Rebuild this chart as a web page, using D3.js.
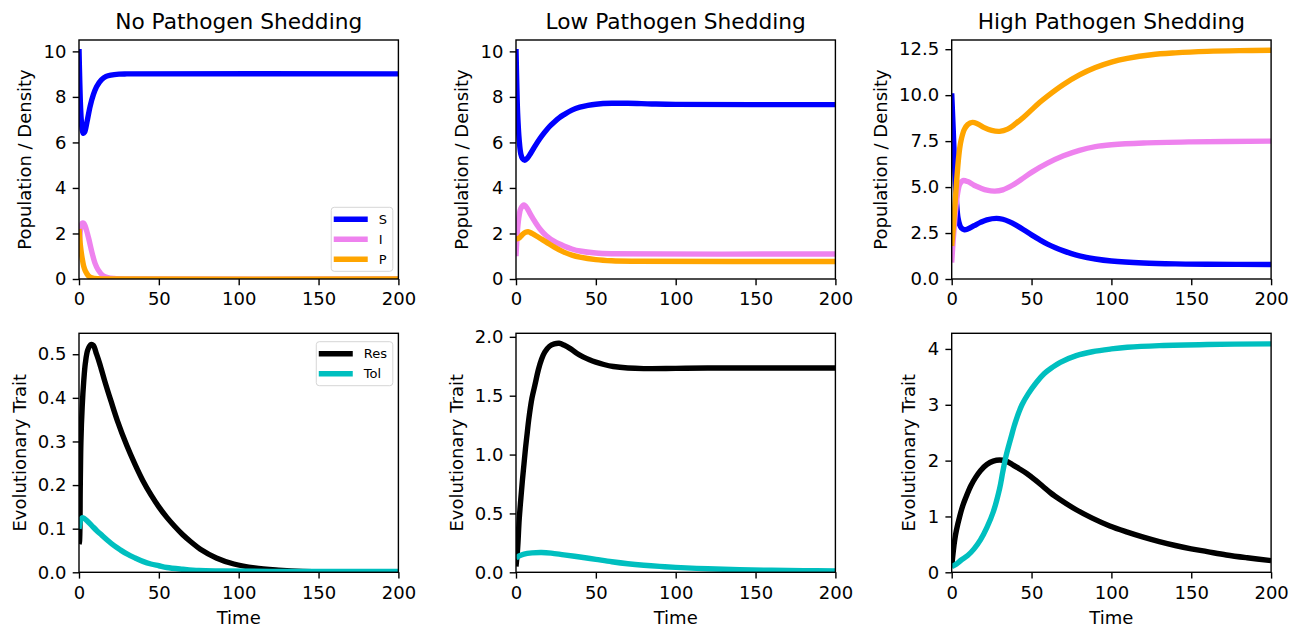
<!DOCTYPE html>
<html>
<head>
<meta charset="utf-8">
<script src="https://cdn.jsdelivr.net/npm/d3@7"></script>
<style>
  html, body { margin: 0; padding: 0; background: #fff; }
  svg { display: block; font-family: "DejaVu Sans", sans-serif; }
</style>
</head>
<body>
<svg id="fig" width="1300" height="627"></svg>
<script>
// ---- Scenario titles and axis text ----
const panelTitles = ["No Pathogen Shedding", "Low Pathogen Shedding", "High Pathogen Shedding"];
const popLabel = "Population / Density";
const traitLabel = "Evolutionary Trait";
const timeLabel = "Time";

// ---- Axis ranges and ticks ----
const timeTicks = [0, 50, 100, 150, 200];
const popMax = [10.5, 10.5, 13.0];
const traitMax = [0.548, 2.03, 4.28];
const popTicks = [[0, 2, 4, 6, 8, 10], [0, 2, 4, 6, 8, 10], [0, 2.5, 5, 7.5, 10, 12.5]];
const popTickFmt = ["d", "d", ".1f"];
const traitTicks = [[0, 0.1, 0.2, 0.3, 0.4, 0.5], [0, 0.5, 1, 1.5, 2], [0, 1, 2, 3, 4]];
const traitTickFmt = [".1f", ".1f", "d"];

// ---- Series names and colours ----
const popSeries = ["S", "I", "P"];
const popColors = ["#0000ff", "#ee82ee", "#ffa500"];
const traitSeries = ["Res", "Tol"];
const traitColors = ["#000000", "#00bfbf"];

// ---- No pathogen shedding: [time, value] ----
const noS = [[0,10.1],[0.5,8.6],[1,7.5],[1.5,6.9],[2,6.55],[2.7,6.4],[3.5,6.45],[5,6.9],[7,7.6],[9,8.1],[11,8.45],[14,8.75],[17,8.9],[20,8.96],[25,9.0],[30,9.01],[200,9.01]];
const noI = [[0,1.0],[0.5,1.8],[1,2.2],[2,2.45],[3,2.45],[4,2.3],[6,1.8],[8,1.2],[10,0.7],[12,0.4],[15,0.15],[18,0.06],[22,0.02],[30,0.0],[200,0.0]];
const noP = [[0,2.2],[1,1.4],[2,0.9],[3,0.55],[4,0.35],[6,0.13],[8,0.05],[12,0.01],[20,0.0],[200,0.0]];
const noRes = [[0,0.065],[0.3,0.07],[0.8,0.2],[1.2,0.3],[2,0.38],[3,0.44],[4,0.48],[5.5,0.51],[7.5,0.522],[9,0.52],[11,0.5],[13,0.478],[16,0.44],[20,0.393],[24,0.348],[30,0.29],[35,0.248],[40,0.21],[45,0.178],[50,0.15],[55,0.126],[60,0.105],[65,0.086],[70,0.07],[76,0.053],[86,0.033],[97,0.019],[110,0.01],[125,0.005],[140,0.002],[160,0.001],[200,0.0005]];
const noTol = [[0,0.1],[0.5,0.11],[1,0.12],[2,0.125],[3,0.124],[5,0.118],[8,0.107],[11,0.096],[14,0.086],[18,0.073],[22,0.061],[26,0.051],[30,0.042],[35,0.033],[40,0.025],[45,0.019],[50,0.015],[55,0.011],[65,0.007],[75,0.004],[90,0.003],[120,0.002],[200,0.002]];

// ---- Low pathogen shedding ----
const lowS = [[0,10.1],[0.5,8.5],[1,7.3],[2,6.1],[3,5.5],[4,5.3],[5.5,5.22],[7,5.3],[9,5.5],[12,5.85],[15,6.17],[18,6.45],[21,6.7],[24,6.9],[27,7.08],[30,7.22],[35,7.42],[40,7.55],[45,7.63],[50,7.68],[60,7.72],[70,7.72],[85,7.69],[100,7.67],[200,7.66]];
const lowI = [[0,1.0],[1,2.2],[2,2.8],[3,3.1],[5,3.25],[7,3.1],[9,2.85],[12,2.5],[15,2.2],[19,1.9],[24,1.65],[30,1.45],[35,1.32],[40,1.23],[50,1.14],[60,1.11],[200,1.1]];
const lowP = [[0,1.75],[2,1.8],[4,1.95],[6,2.05],[8,2.07],[10,2.0],[13,1.88],[16,1.75],[19,1.62],[24,1.4],[30,1.18],[35,1.05],[40,0.96],[50,0.85],[60,0.8],[75,0.78],[200,0.77]];
const lowRes = [[0,0.05],[1,0.2],[2,0.45],[3,0.62],[4,0.78],[5,0.92],[6,1.06],[7,1.18],[8,1.3],[10,1.48],[12,1.6],[14,1.72],[16,1.81],[18,1.87],[21,1.92],[24,1.94],[27,1.945],[30,1.93],[34,1.9],[38,1.86],[42,1.83],[46,1.805],[50,1.785],[55,1.765],[61,1.748],[70,1.735],[80,1.73],[100,1.732],[120,1.735],[200,1.735]];
const lowTol = [[0,0.12],[2,0.14],[5,0.155],[10,0.165],[16,0.168],[22,0.163],[30,0.148],[40,0.13],[50,0.11],[60,0.09],[70,0.073],[80,0.06],[90,0.05],[100,0.042],[120,0.03],[140,0.022],[160,0.017],[180,0.014],[200,0.012]];

// ---- High pathogen shedding ----
const highS = [[0,10.1],[1,8.0],[2,5.8],[3,4.2],[4,3.3],[5,2.95],[6,2.78],[8,2.68],[10,2.72],[14,2.9],[18,3.08],[22,3.22],[28,3.3],[32,3.25],[36,3.12],[40,2.94],[45,2.68],[50,2.4],[55,2.14],[60,1.9],[65,1.7],[70,1.53],[75,1.38],[80,1.26],[90,1.09],[100,0.98],[120,0.87],[140,0.82],[160,0.8],[200,0.79]];
const highI = [[0,0.9],[1,2.2],[2,3.3],[3,4.2],[4,4.8],[5,5.15],[7,5.35],[10,5.3],[14,5.1],[18,4.95],[22,4.83],[27,4.78],[32,4.85],[38,5.1],[45,5.5],[50,5.8],[60,6.3],[70,6.7],[80,7.0],[90,7.2],[100,7.3],[120,7.4],[150,7.46],[200,7.5]];
const highP = [[0,1.8],[1,2.8],[2,4.0],[3,5.2],[4,6.3],[5,7.1],[6,7.6],[8,8.15],[10,8.4],[13,8.52],[16,8.45],[20,8.25],[25,8.08],[30,8.03],[35,8.15],[40,8.45],[45,8.8],[50,9.2],[55,9.6],[60,9.95],[70,10.58],[80,11.1],[90,11.5],[100,11.8],[110,12.0],[125,12.2],[140,12.3],[160,12.38],[180,12.42],[200,12.44]];
const highRes = [[0,0.1],[1,0.38],[2,0.6],[3,0.76],[5,1.0],[7,1.2],[9,1.35],[12,1.55],[15,1.7],[18,1.82],[22,1.93],[26,1.99],[30,2.01],[34,1.99],[38,1.93],[42,1.86],[47,1.77],[52,1.66],[57,1.54],[62,1.42],[68,1.3],[78,1.12],[88,0.97],[99,0.83],[110,0.72],[120,0.63],[130,0.55],[140,0.48],[150,0.42],[160,0.37],[172,0.31],[185,0.26],[200,0.21]];
const highTol = [[0,0.1],[3,0.15],[6,0.22],[10,0.3],[14,0.42],[18,0.58],[22,0.8],[26,1.08],[30,1.5],[32,1.8],[34,2.08],[37,2.4],[40,2.7],[44,3.0],[48,3.2],[53,3.4],[58,3.56],[63,3.67],[68,3.76],[78,3.88],[88,3.95],[100,4.0],[110,4.03],[130,4.06],[160,4.08],[200,4.09]];

const popData = [[noS, noI, noP], [lowS, lowI, lowP], [highS, highI, highP]];
const traitData = [[noRes, noTol], [lowRes, lowTol], [highRes, highTol]];

// ---- Layout ----
const colLeft = [79, 516, 951.7];
const axW = 319.4;
const rowTop = [40, 333.3];
const axH = 239;
const tickFont = 18;
const labelFont = 18;
const titleFont = 21.7;
const legendFont = 13;
const lineW = 5.4;
const spineW = 1.4;
const tickLen = 6.3;

const svg = d3.select("#fig");
svg.append("rect").attr("width", 1300).attr("height", 627).attr("fill", "#fff");

let clipId = 0;

function drawPanel(left, top, yMax, yTicks, yFmt, series, colors, names, yLabel, title, showX, legend) {
  const x = d3.scaleLinear().domain([0, 200]).range([left, left + axW]);
  const y = d3.scaleLinear().domain([0, yMax]).range([top + axH, top]);
  const g = svg.append("g");

  const id = "clip" + (clipId++);
  svg.append("clipPath").attr("id", id)
    .append("rect").attr("x", left).attr("y", top).attr("width", axW).attr("height", axH);

  const line = d3.line()
    .x(d => x(d[0])).y(d => y(d[1]))
    .curve(d3.curveCatmullRom.alpha(0.5));

  const lines = g.append("g").attr("clip-path", `url(#${id})`);
  series.forEach((s, i) => {
    lines.append("path")
      .attr("d", line(s))
      .attr("fill", "none")
      .attr("stroke", colors[i])
      .attr("stroke-width", lineW)
      .attr("stroke-linejoin", "round")
      .attr("stroke-linecap", "butt");
  });

  // axes
  const xAxis = g.append("g").attr("transform", `translate(0,${top + axH})`)
    .call(d3.axisBottom(x).tickValues(timeTicks).tickSize(tickLen).tickPadding(6.3).tickFormat(d3.format("d")));
  const yAxis = g.append("g").attr("transform", `translate(${left},0)`)
    .call(d3.axisLeft(y).tickValues(yTicks).tickSize(tickLen).tickPadding(6.3).tickFormat(d3.format(yFmt)));
  [xAxis, yAxis].forEach(a => {
    a.select(".domain").remove();
    a.selectAll(".tick line").attr("stroke", "#000").attr("stroke-width", spineW);
    a.selectAll(".tick text").attr("fill", "#000").attr("font-size", tickFont)
      .attr("font-family", "DejaVu Sans");
  });
  xAxis.selectAll(".tick text").attr("dy", "0.76em");

  // frame
  g.append("rect").attr("x", left).attr("y", top).attr("width", axW).attr("height", axH)
    .attr("fill", "none").attr("stroke", "#000").attr("stroke-width", spineW);

  // y label placed beside the tick labels (bbox is in the axis group's own frame)
  const bb = yAxis.node().getBBox();
  g.append("text")
    .attr("transform", `translate(${left + bb.x - 7.2 - 5},${top + axH / 2}) rotate(-90)`)
    .attr("text-anchor", "middle")
    .attr("font-size", labelFont)
    .attr("fill", "#000")
    .text(yLabel);

  if (showX) {
    g.append("text")
      .attr("x", left + axW / 2).attr("y", top + axH + 52)
      .attr("text-anchor", "middle")
      .attr("font-size", labelFont)
      .attr("fill", "#000")
      .text(timeLabel);
  }
  if (title) {
    g.append("text")
      .attr("x", left + axW / 2).attr("y", top - 11)
      .attr("text-anchor", "middle")
      .attr("font-size", titleFont)
      .attr("fill", "#000")
      .text(title);
  }

  if (legend) {
    const rowH = 20;
    const handle = 34;
    const lg = g.append("g");
    const box = lg.append("rect");
    const items = lg.append("g");
    let maxW = 0;
    names.forEach((n, i) => {
      const yy = i * rowH;
      items.append("line").attr("x1", 0).attr("x2", handle).attr("y1", yy).attr("y2", yy)
        .attr("stroke", colors[i]).attr("stroke-width", lineW);
      const t = items.append("text").attr("x", handle + 11).attr("y", yy)
        .attr("dy", "0.36em").attr("font-size", legendFont).attr("fill", "#000").text(n);
      maxW = Math.max(maxW, t.node().getComputedTextLength());
    });
    const bw = handle + 11 + maxW + 2.3 + 6;
    const bh = (names.length - 1) * rowH + 24;
    const bx = left + axW - 5.6 - bw;
    const by = legend === "lower" ? top + axH - 7.7 - bh : top + 8.4;
    box.attr("x", bx).attr("y", by).attr("width", bw).attr("height", bh)
      .attr("rx", 3).attr("fill", "rgba(255,255,255,0.8)").attr("stroke", "#d6d6d6").attr("stroke-width", 1);
    items.attr("transform", `translate(${bx + 2.5},${by + 12})`);
  }
}

for (let c = 0; c < 3; c++) {
  drawPanel(colLeft[c], rowTop[0], popMax[c], popTicks[c], popTickFmt[c], popData[c], popColors, popSeries,
    popLabel, panelTitles[c], false, c === 0 ? "lower" : null);
  drawPanel(colLeft[c], rowTop[1], traitMax[c], traitTicks[c], traitTickFmt[c], traitData[c], traitColors, traitSeries,
    traitLabel, null, true, c === 0 ? "upper" : null);
}
</script>
</body>
</html>
